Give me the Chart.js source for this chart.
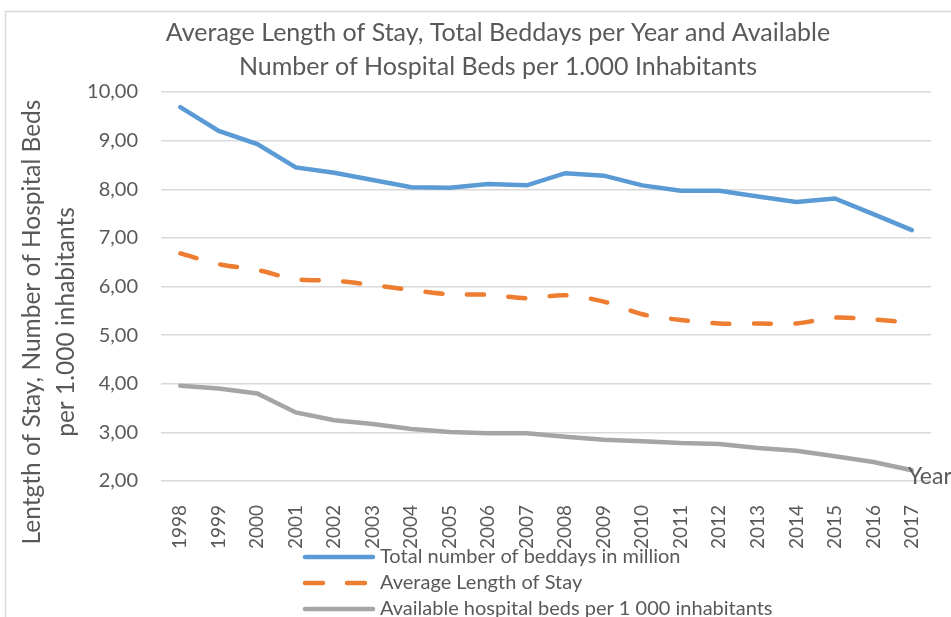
<!DOCTYPE html>
<html>
<head>
<meta charset="utf-8">
<script src="https://cdn.jsdelivr.net/npm/chart.js@4"></script>
<style>
  body { margin: 0; background: #fff; }
</style>
</head>
<body>
<canvas id="myChart" width="951" height="617"></canvas>
<script>
const years = ['1998', '1999', '2000', '2001', '2002', '2003', '2004', '2005', '2006', '2007',
               '2008', '2009', '2010', '2011', '2012', '2013', '2014', '2015', '2016', '2017'];
const beddays = [9.69, 9.20, 8.93, 8.45, 8.34, 8.19, 8.04, 8.03, 8.11, 8.08,
                 8.33, 8.28, 8.08, 7.97, 7.97, 7.85, 7.74, 7.81, 7.49, 7.16];
const avgStay = [6.68, 6.46, 6.34, 6.15, 6.12, 6.03, 5.93, 5.84, 5.83, 5.76,
                 5.82, 5.69, 5.43, 5.31, 5.24, 5.24, 5.24, 5.36, 5.32, 5.26];
const beds = [3.96, 3.90, 3.80, 3.41, 3.25, 3.17, 3.07, 3.01, 2.98, 2.98,
              2.91, 2.85, 2.82, 2.78, 2.76, 2.68, 2.62, 2.51, 2.39, 2.22];
const yMin = 2;
const yMax = 10;
const yStep = 1;

const textColor = '#595959';
const font = 'Lato';

const data = {
    labels: years,
    datasets: [{
        label: 'Total number of beddays in million',
        data: beddays,
        borderColor: '#5B9BD5',
        borderWidth: 4.5,
        pointRadius: 0,
        tension: 0,
        borderCapStyle: 'round'
    }, {
        label: 'Average Length of Stay',
        data: avgStay,
        borderColor: '#ED7D31',
        borderWidth: 4.5,
        borderDash: [17, 24.5],
        borderCapStyle: 'round',
        pointRadius: 0,
        tension: 0.3
    }, {
        label: 'Available hospital beds per 1 000 inhabitants',
        data: beds,
        borderColor: '#A5A5A5',
        borderWidth: 4.5,
        pointRadius: 0,
        tension: 0,
        borderCapStyle: 'round'
    }]
};

// frame, rotated y title, "Year" label and stacked legend
const extras = {
    id: 'extras',
    beforeDraw(chart) {
        const ctx = chart.ctx;
        ctx.save();
        ctx.fillStyle = '#fff';
        ctx.fillRect(0, 0, chart.width, chart.height);
        ctx.strokeStyle = '#D9D9D9';
        ctx.lineWidth = 1.5;
        ctx.beginPath();
        ctx.moveTo(5.5, chart.height + 5);
        ctx.lineTo(5.5, 11.5);
        ctx.lineTo(chart.width + 5, 11.5);
        ctx.stroke();
        ctx.restore();
    },
    afterDraw(chart) {
        const ctx = chart.ctx;
        const area = chart.chartArea;
        ctx.save();
        ctx.fillStyle = textColor;

        // y axis title
        ctx.font = '24.5px ' + font;
        ctx.textAlign = 'center';
        ctx.textBaseline = 'middle';
        ctx.save();
        ctx.translate(32, 322);
        ctx.rotate(-Math.PI / 2);
        ctx.fillText('Lentgth of Stay, Number of Hospital Beds', 0, 0);
        ctx.fillText('per 1.000 inhabitants', 0, 34);
        ctx.restore();

        // x axis title
        ctx.font = '23px ' + font;
        ctx.textAlign = 'left';
        ctx.fillText('Year', 908, area.bottom - 4);

        // legend
        ctx.font = '20px ' + font;
        chart.data.datasets.forEach((ds, i) => {
            const y = area.bottom + 76 + i * 26;
            ctx.save();
            ctx.strokeStyle = ds.borderColor;
            ctx.lineWidth = ds.borderWidth;
            ctx.lineCap = 'round';
            ctx.setLineDash(ds.borderDash ? [18, 24] : []);
            ctx.beginPath();
            ctx.moveTo(305, y);
            ctx.lineTo(373, y);
            ctx.stroke();
            ctx.restore();
            ctx.fillText(ds.label, 380, y);
        });
        ctx.restore();
    }
};

const config = {
    type: 'line',
    data: data,
    plugins: [extras],
    options: {
        responsive: false,
        animation: false,
        layout: {
            padding: { left: 57, right: 12, top: 0, bottom: 0 }
        },
        plugins: {
            legend: { display: false },
            tooltip: { enabled: false },
            title: {
                display: true,
                text: ['Average Length of Stay, Total Beddays per Year and Available',
                       'Number of Hospital Beds per 1.000 Inhabitants'],
                color: textColor,
                font: { family: font, size: 25, weight: 'normal', lineHeight: 1.36 },
                padding: { top: 16, bottom: 8 }
            }
        },
        scales: {
            x: {
                offset: true,
                grid: { display: false },
                border: { display: false },
                ticks: {
                    color: textColor,
                    font: { family: font, size: 19 },
                    minRotation: 90,
                    maxRotation: 90,
                    padding: 16,
                    autoSkip: false
                },
                afterFit(scale) { scale.height = 136; }
            },
            y: {
                min: yMin,
                max: yMax,
                border: { display: false },
                grid: { color: '#D9D9D9', lineWidth: 1.5, drawTicks: false },
                ticks: {
                    stepSize: yStep,
                    color: textColor,
                    font: { family: font, size: 20 },
                    padding: 23,
                    callback: v => v.toFixed(2).replace('.', ',')
                },
                afterFit(scale) { scale.width = 104; }
            }
        }
    }
};

const myChart = new Chart(document.getElementById('myChart'), config);
</script>
</body>
</html>
